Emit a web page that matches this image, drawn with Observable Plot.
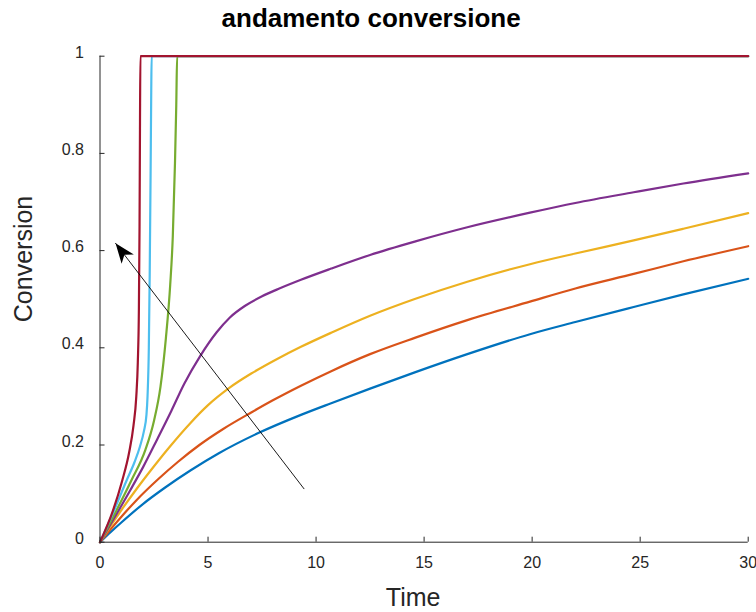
<!DOCTYPE html>
<html>
<head>
<meta charset="utf-8">
<script src="https://cdn.jsdelivr.net/npm/d3@7"></script>
<script src="https://cdn.jsdelivr.net/npm/@observablehq/plot@0.6"></script>
<style>
  html, body { margin: 0; padding: 0; background: #fff; }
  #chart { width: 756px; height: 612px; }
</style>
</head>
<body>
<div id="chart"></div>
<script>
// ---- data ----
const titleText = "andamento conversione";
const xLabel = "Time";
const yLabel = "Conversion";
const xTicks = [0, 5, 10, 15, 20, 25, 30];
const yTicks = [0, 0.2, 0.4, 0.6, 0.8, 1];

const seriesNames = ["s1", "s2", "s3", "s4", "s5", "s6", "s7"];
const seriesColors = ["#0072BD", "#D95319", "#EDB120", "#7E2F8E", "#77AC30", "#4DBEEE", "#A2142F"];

const t1 = [0, 0.5, 1, 2, 3, 4.2, 5.5, 7.3, 9.3, 10.7, 12.5, 14.6, 17, 19.9, 22, 24.7, 27, 30];
const c1 = [0, 0.021, 0.041, 0.079, 0.112, 0.148, 0.183, 0.224, 0.262, 0.286, 0.316, 0.350, 0.387, 0.428, 0.453, 0.484, 0.510, 0.542];

const t2 = [0, 0.5, 1, 1.7, 2.7, 3.6, 4.6, 5.7, 7, 8, 9.3, 10.7, 12.5, 14.6, 17, 19.9, 22, 24.7, 27, 30];
const c2 = [0, 0.027, 0.053, 0.087, 0.130, 0.165, 0.200, 0.233, 0.267, 0.292, 0.322, 0.352, 0.387, 0.421, 0.457, 0.495, 0.522, 0.552, 0.578, 0.609];

const t3 = [0, 0.5, 1.1, 1.7, 2.3, 3.2, 4.2, 5, 6, 7, 8.2, 9.3, 10.7, 12.5, 14.6, 17, 19.9, 22, 24.7, 27, 30];
const c3 = [0, 0.034, 0.073, 0.110, 0.145, 0.195, 0.246, 0.282, 0.318, 0.347, 0.377, 0.402, 0.431, 0.466, 0.501, 0.536, 0.572, 0.594, 0.621, 0.645, 0.677];

const t4 = [0, 0.7, 1.4, 2.0, 2.65, 3.3, 3.9, 4.65, 5.4, 6, 6.7, 7.5, 8.3, 9.3, 10.7, 12.5, 14.6, 17, 19.9, 22, 24.7, 27, 30];
const c4 = [0, 0.053, 0.107, 0.155, 0.212, 0.270, 0.326, 0.384, 0.432, 0.462, 0.486, 0.506, 0.522, 0.540, 0.563, 0.591, 0.619, 0.648, 0.678, 0.698, 0.720, 0.738, 0.759];

const t5 = [0, 0.7, 1.45, 2.1, 2.5, 2.8, 3.05, 3.25, 3.37, 3.47, 3.53, 3.57, 30];
const c5 = [0, 0.060, 0.127, 0.190, 0.250, 0.320, 0.420, 0.530, 0.630, 0.780, 0.900, 1, 1];

const t6 = [0, 0.6, 1.23, 1.6, 1.85, 2.03, 2.15, 2.2, 2.26, 2.3, 2.34, 2.37, 2.39, 30];
const c6 = [0, 0.060, 0.127, 0.165, 0.197, 0.228, 0.262, 0.300, 0.400, 0.550, 0.750, 0.920, 1, 1];

const t7 = [0, 0.6, 1.03, 1.35, 1.55, 1.68, 1.75, 1.80, 1.83, 1.85, 1.87, 30];
const c7 = [0, 0.065, 0.127, 0.185, 0.240, 0.300, 0.370, 0.480, 0.650, 0.850, 1, 1];

const arrowT = [9.44, 0.72];
const arrowC = [0.11, 0.615];

// ---- build tables ----
const allT = [t1, t2, t3, t4, t5, t6, t7];
const allC = [c1, c2, c3, c4, c5, c6, c7];
const rows = [];
seriesNames.forEach((name, i) => {
  allT[i].forEach((t, j) => rows.push({series: name, t, c: allC[i][j]}));
});
const arrowRows = arrowT.map((t, i) => ({t, c: arrowC[i]}));

function arrowHead() {
  const m = d3.create("svg:marker")
    .attr("viewBox", "-21 -9 22 18")
    .attr("markerWidth", 22)
    .attr("markerHeight", 18)
    .attr("markerUnits", "userSpaceOnUse")
    .attr("orient", "auto");
  m.append("path")
    .attr("fill", "black")
    .attr("stroke", "none")
    .attr("d", "M0,0L-20,-7.7L-14.5,0L-20,7.7Z");
  return m.node();
}

const fmt = d => String(d);
const ink = "#262626";

const chart = Plot.plot({
  width: 756,
  height: 612,
  marginLeft: 99.5,
  marginRight: 8.3,
  marginTop: 55.7,
  marginBottom: 70.3,
  style: {fontFamily: "'Liberation Sans', Arial, Helvetica, sans-serif", fontSize: "16px", background: "#fff", color: ink},
  x: {domain: [0, 30], label: null},
  y: {domain: [0, 1], label: null},
  color: {domain: seriesNames, range: seriesColors},
  marks: [
    // curves
    Plot.line(rows, {x: "t", y: "c", z: "series", stroke: "series", strokeWidth: 2.2, curve: "monotone-x"}),
    // arrow annotation
    Plot.line(arrowRows, {x: "t", y: "c", stroke: "black", strokeWidth: 0.9, markerEnd: arrowHead}),
    // axis lines
    Plot.ruleX([0], {stroke: ink, strokeWidth: 1}),
    Plot.ruleY([0], {stroke: ink, strokeWidth: 1}),
    // tick marks (inward)
    Plot.axisX({ticks: xTicks, tickSize: -5, fill: "none", stroke: ink, label: null}),
    Plot.axisY({ticks: yTicks, tickSize: -5, fill: "none", stroke: ink, label: null}),
    // tick labels
    Plot.axisX({ticks: xTicks, tickSize: 0, tickPadding: 14.3, tickFormat: fmt, fill: ink, fontSize: 16, label: null}),
    Plot.axisY({ticks: yTicks, tickSize: 0, tickPadding: 16, dy: -3.5, tickFormat: fmt, fill: ink, fontSize: 16, label: null}),
    // axis titles and chart title
    Plot.text([xLabel], {frameAnchor: "bottom", text: d => d, dx: -11, dy: 56, fontSize: 25, fill: ink, lineAnchor: "middle"}),
    Plot.text([yLabel], {frameAnchor: "left", text: d => d, rotate: -90, dx: -76, dy: 23, fontSize: 25, fill: ink, lineAnchor: "middle"}),
    Plot.text([titleText], {frameAnchor: "top", text: d => d, dx: -53, dy: -29, fontSize: 26, fontWeight: "bold", fill: "#000", lineAnchor: "bottom"})
  ]
});
document.getElementById("chart").appendChild(chart);
</script>
</body>
</html>
